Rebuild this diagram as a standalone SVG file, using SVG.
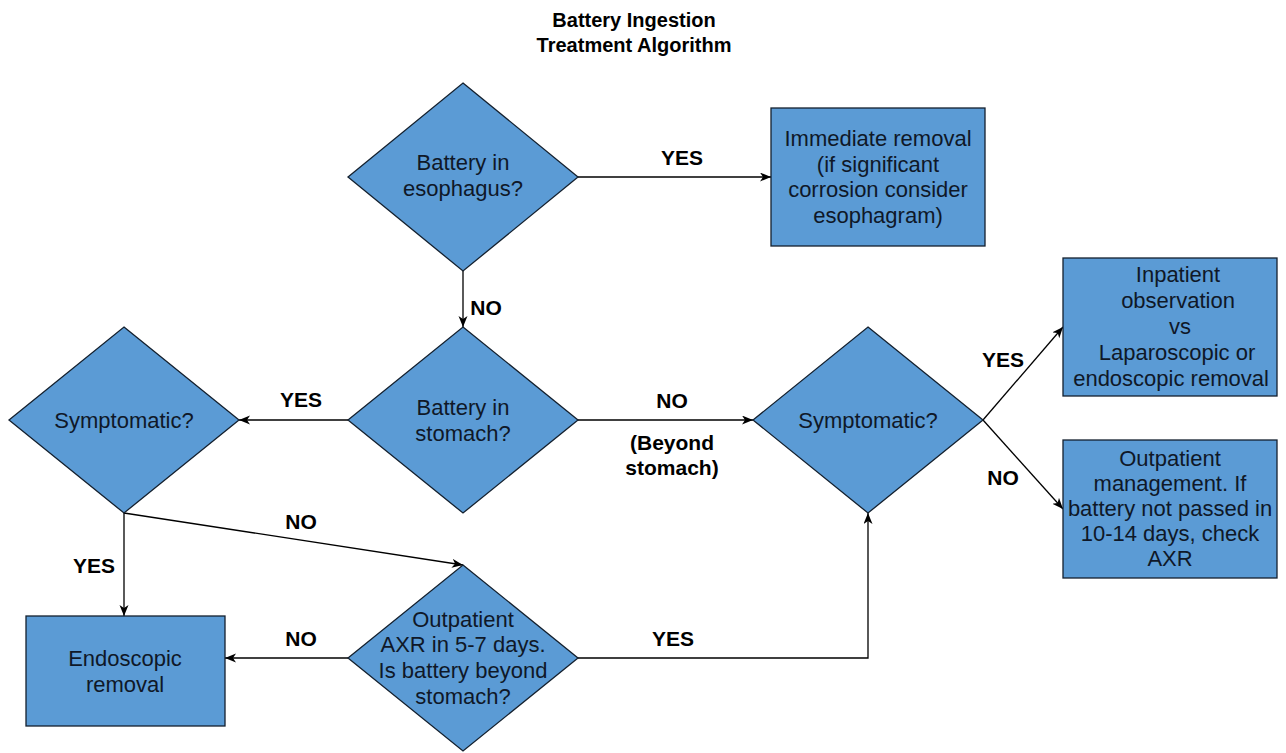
<svg xmlns="http://www.w3.org/2000/svg" width="1286" height="753" viewBox="0 0 1286 753">
<style>
.node{fill:#5b9bd5;stroke:#14202e;stroke-width:1.3}
.nt{font-family:"Liberation Sans",Arial,sans-serif;font-size:22px;fill:#0f1828;text-anchor:middle}
.lbl{font-family:"Liberation Sans",Arial,sans-serif;font-size:21px;font-weight:bold;fill:#000;text-anchor:middle}
.title{font-family:"Liberation Sans",Arial,sans-serif;font-size:20px;font-weight:bold;fill:#000;text-anchor:middle}
.edge{fill:none;stroke:#000;stroke-width:1.3;marker-end:url(#arr)}
</style>
<defs>
<marker id="arr" markerUnits="userSpaceOnUse" markerWidth="12" markerHeight="10" refX="11" refY="4.5" orient="auto">
<path d="M0,0 L11,4.5 L0,9 L3,4.5 z" fill="#000"/>
</marker>
</defs>
<rect width="1286" height="753" fill="#fff"/>
<g id="title">
<text class="title" x="634" y="27">Battery Ingestion</text>
<text class="title" x="634" y="52">Treatment Algorithm</text>
</g>
<g id="connectors">
<path class="edge" d="M578,177 H771"/>
<path class="edge" d="M463,271 V327"/>
<path class="edge" d="M348,420 H239"/>
<path class="edge" d="M578,420 H753"/>
<path class="edge" d="M983,420 L1063,327"/>
<path class="edge" d="M983,420 L1063,509"/>
<path class="edge" d="M124,513 V616"/>
<path class="edge" d="M124,513 L463,565"/>
<path class="edge" d="M348,658 H225"/>
<path class="edge" d="M578,658 H868 V513"/>
<text class="lbl" x="682" y="165">YES</text>
<text class="lbl" x="486" y="315">NO</text>
<text class="lbl" x="301" y="407">YES</text>
<text class="lbl" x="672" y="408">NO</text>
<text class="lbl" x="672" y="450">(Beyond</text>
<text class="lbl" x="672" y="475">stomach)</text>
<text class="lbl" x="1003" y="367">YES</text>
<text class="lbl" x="1003" y="485">NO</text>
<text class="lbl" x="301" y="529">NO</text>
<text class="lbl" x="94" y="573">YES</text>
<text class="lbl" x="301" y="646">NO</text>
<text class="lbl" x="673" y="646">YES</text>
</g>
<g id="d1">
<polygon class="node" points="463,83 578,177 463,271 348,177"/>
<text class="nt" x="463" y="170">Battery in</text>
<text class="nt" x="463" y="196">esophagus?</text>
</g>
<g id="r1">
<rect class="node" x="771" y="108" width="214" height="138"/>
<text class="nt" x="878" y="146">Immediate removal</text>
<text class="nt" x="878" y="172">(if significant</text>
<text class="nt" x="878" y="197">corrosion consider</text>
<text class="nt" x="878" y="223">esophagram)</text>
</g>
<g id="d2">
<polygon class="node" points="463,327 578,420 463,513 348,420"/>
<text class="nt" x="463" y="415">Battery in</text>
<text class="nt" x="463" y="441">stomach?</text>
</g>
<g id="d3">
<polygon class="node" points="124,327 239,420 124,513 9,420"/>
<text class="nt" x="124" y="428">Symptomatic?</text>
</g>
<g id="d4">
<polygon class="node" points="868,327 983,420 868,513 753,420"/>
<text class="nt" x="868" y="428">Symptomatic?</text>
</g>
<g id="r2">
<rect class="node" x="1063" y="258" width="214" height="138"/>
<text class="nt" x="1178" y="282">Inpatient</text>
<text class="nt" x="1178" y="308">observation</text>
<text class="nt" x="1180" y="334">vs</text>
<text class="nt" x="1177" y="360">Laparoscopic or</text>
<text class="nt" x="1171" y="386">endoscopic removal</text>
</g>
<g id="r3">
<rect class="node" x="1063" y="440" width="214" height="138"/>
<text class="nt" x="1170" y="466">Outpatient</text>
<text class="nt" x="1170" y="491">management. If</text>
<text class="nt" x="1170" y="516">battery not passed in</text>
<text class="nt" x="1170" y="541">10-14 days, check</text>
<text class="nt" x="1170" y="566">AXR</text>
</g>
<g id="r4">
<rect class="node" x="26" y="616" width="199" height="110"/>
<text class="nt" x="125" y="666">Endoscopic</text>
<text class="nt" x="125" y="692">removal</text>
</g>
<g id="d5">
<polygon class="node" points="463,565 578,658 463,751 348,658"/>
<text class="nt" x="463" y="627">Outpatient</text>
<text class="nt" x="463" y="652">AXR in 5-7 days.</text>
<text class="nt" x="463" y="678">Is battery beyond</text>
<text class="nt" x="463" y="704">stomach?</text>
</g>
</svg>
